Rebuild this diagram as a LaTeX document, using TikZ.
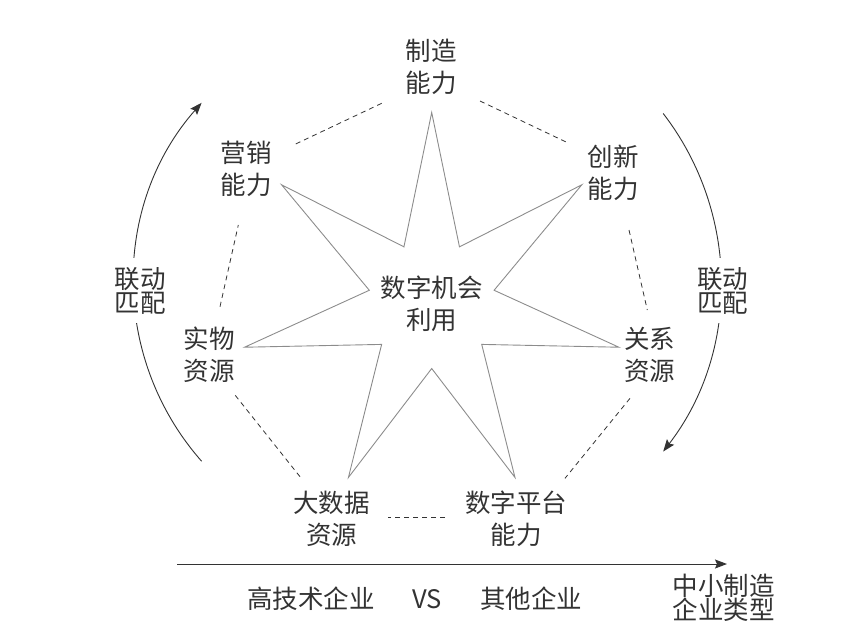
\documentclass[tikz,border=0pt]{standalone}
\usepackage{fontspec}
\setmainfont{Noto Sans CJK SC}
\usetikzlibrary{arrows.meta}
\definecolor{ink}{HTML}{333333}
\definecolor{stargray}{HTML}{8C8C8C}
\begin{document}
\begin{tikzpicture}[x=1pt,y=-1pt,
  lbl/.style={align=center,inner sep=0pt,text=ink,font=\fontsize{25.5}{32}\selectfont},
  tight/.style={align=center,inner sep=0pt,text=ink,font=\fontsize{25.5}{24}\selectfont},
  dashln/.style={draw=ink,line width=0.8pt,dash pattern=on 5pt off 4pt},
  starln/.style={draw=stargray,line width=0.9pt,line join=miter},
  arcln/.style={draw=ink,line width=0.9pt,-{Stealth[length=12pt,width=9pt,inset=2pt]}},
]
\useasboundingbox (0,0) rectangle (856,635);

% star
\begin{scope}[shift={(431.7,304.5)}]
  \draw[starln] (-90:192)
    \foreach \k in {0,...,6} { -- ({-90+(\k+0.5)*360/7}:64) -- ({-90+(\k+1)*360/7}:192) } -- cycle;
\end{scope}

% labels
\node[lbl] (zz)   at (431,67)    {制造\\能力};
\node[lbl] (yx)   at (246,169)   {营销\\能力};
\node[lbl] (cx)   at (613,172.5) {创新\\能力};
\node[lbl] (sw)   at (209,355)   {实物\\资源};
\node[lbl] (gx)   at (649.5,355) {关系\\资源};
\node[lbl] (dsj)  at (331.5,518.5) {大数据\\资源};
\node[lbl] (szpt) at (516,518.5) {数字平台\\能力};
\node[lbl] (ctr)  at (431.5,303.3) {数字机会\\利用};

% dashed heptagon connectors
\coordinate (d1a) at (381.7,103.3); \coordinate (d1b) at (295,144.3);
\coordinate (d2a) at (480,101);     \coordinate (d2b) at (566.7,142.3);
\coordinate (d3a) at (629,230);     \coordinate (d3b) at (647.3,310);
\coordinate (d4a) at (630,398.3);   \coordinate (d4b) at (565,478.3);
\coordinate (d5a) at (445,517.7);   \coordinate (d5b) at (388,517.7);
\coordinate (d6a) at (300,476.7);   \coordinate (d6b) at (235,395);
\coordinate (d7a) at (220,306.7);   \coordinate (d7b) at (238.3,225);
\draw[dashln] (d1a) -- (d1b);
\draw[dashln] (d2a) -- (d2b);
\draw[dashln] (d3a) -- (d3b);
\draw[dashln] (d4a) -- (d4b);
\draw[dashln] (d5a) -- (d5b);
\draw[dashln] (d6a) -- (d6b);
\draw[dashln] (d7a) -- (d7b);

% side arcs
\coordinate (la) at (201.6,461.2);
\draw[arcln] (la) arc[start angle=138.6,end angle=221.4,radius=271];
\coordinate (ra) at (663.2,113.5);
\draw[arcln] (ra) arc[start angle=-37.6,end angle=37.6,radius=277];
\node[tight,fill=white,inner ysep=9pt,inner xsep=2pt] (lm1) at (140,290.5) {联动\\匹配};
\node[tight,fill=white,inner ysep=9pt,inner xsep=2pt] (lm2) at (722.5,290.5) {联动\\匹配};

% bottom axis
\coordinate (ax0) at (177,564);
\coordinate (ax1) at (727,564);
\draw[draw=ink,line width=1pt,-{Stealth[length=12pt,width=9pt,inset=2pt]}] (ax0) -- (ax1);
\node[lbl] (gj) at (311,599) {高技术企业};
\node[lbl] (vs) at (427,599) {VS};
\node[lbl] (qt) at (531,599) {其他企业};
\node[tight] (zx) at (723.5,598) {中小制造\\企业类型};
\end{tikzpicture}
\end{document}
